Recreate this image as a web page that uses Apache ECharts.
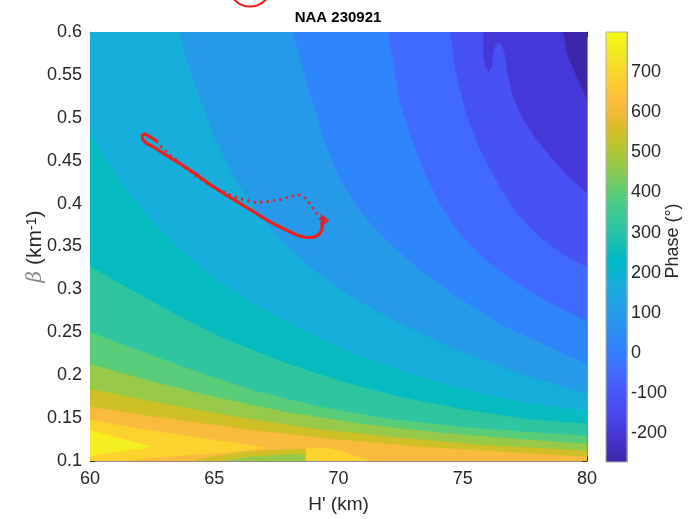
<!DOCTYPE html>
<html><head><meta charset="utf-8">
<script src="https://cdn.jsdelivr.net/npm/echarts@6/dist/echarts.min.js"></script>
<style>html,body{margin:0;padding:0;background:#fff}#c{width:690px;height:519px}</style>
</head><body><div id="c"></div>
<script>
// ---------- data ----------
const xTicks = [60, 65, 70, 75, 80];
const yTicks = [0.1, 0.15, 0.2, 0.25, 0.3, 0.35, 0.4, 0.45, 0.5, 0.55, 0.6];
const cbarMin = -272, cbarMax = 800;
const cbarTicks = [-200, -100, 0, 100, 200, 300, 400, 500, 600, 700];
const bandStep = 74;   // phase step between filled contour levels

// contour boundaries (H', beta); band k lies on the lower-left side of contour k
const contour01 = [[79.03,0.6],[79.19,0.5733],[79.60,0.5465],[80,0.521]];
const contour02 = [[75.81,0.6],[75.81,0.5733],[75.90,0.5593],[76.06,0.5535],[76.18,0.5593],[76.26,0.5791],[76.38,0.5872],[76.54,0.5860],[76.66,0.5767],[76.78,0.5535],[76.98,0.5267],[77.38,0.5000],[77.91,0.4767],[78.51,0.4547],[79.24,0.4314],[80,0.4116]];
const contour03 = [[74.49,0.6],[74.69,0.5558],[75.13,0.5035],[75.69,0.4628],[76.42,0.4221],[77.22,0.3872],[78.11,0.3605],[79.03,0.3407],[80,0.3256]];
const contour04 = [[71.99,0.6],[72.19,0.5674],[72.43,0.5209],[72.88,0.4802],[73.40,0.4395],[74.08,0.3988],[74.89,0.3640],[75.90,0.3349],[77.10,0.3081],[78.43,0.2849],[80,0.2628]];
const contour05 = [[68.17,0.6],[68.45,0.5674],[68.85,0.5267],[69.34,0.4802],[69.90,0.4372],[70.66,0.3988],[71.47,0.3698],[72.31,0.3465],[73.48,0.3174],[74.89,0.2884],[76.50,0.2593],[78.31,0.2349],[80,0.2128]];
const contour06 = [[63.58,0.6],[63.94,0.5616],[64.43,0.5209],[65.03,0.4744],[65.84,0.4279],[66.76,0.3872],[67.85,0.3523],[69.06,0.3209],[70.46,0.2919],[72.27,0.2628],[74.49,0.2326],[77.10,0.2035],[80,0.1779]];
const contour07 = [[60,0.4802],[60.80,0.4453],[61.61,0.4105],[62.62,0.3756],[63.82,0.3407],[65.23,0.3081],[66.84,0.2791],[68.65,0.2512],[70.66,0.2244],[72.88,0.2012],[75.29,0.1814],[77.71,0.1663],[80,0.1581]];
const contour08 = [[60,0.3267],[61.61,0.3000],[63.42,0.2709],[65.43,0.2419],[67.65,0.2163],[70.06,0.1930],[72.47,0.1744],[74.89,0.1605],[77.50,0.1488],[80,0.1430]];
const contour09 = [[60,0.2500],[62.01,0.2279],[64.23,0.2047],[66.64,0.1814],[69.26,0.1628],[72.07,0.1488],[74.89,0.1395],[77.50,0.1337],[80,0.1291]];
const contour10 = [[60,0.2128],[62.41,0.1930],[65.03,0.1744],[67.85,0.1570],[70.87,0.1430],[74.08,0.1326],[77.10,0.1256],[80,0.1198]];
const contour11 = [[60,0.1837],[62.82,0.1674],[65.84,0.1512],[69.06,0.1372],[72.47,0.1267],[75.69,0.1186],[80,0.1116]];
const contour12 = [[60,0.1628],[63.22,0.1488],[66.44,0.1360],[69.66,0.1256],[73.28,0.1163],[76.50,0.1105],[80,0.1047]];
const valley11 = [[64.23,0.1],[65.03,0.1058],[66.24,0.1105],[67.65,0.1128],[68.69,0.114],[68.69,0.1]];
const valley10 = [[65.43,0.1],[66.44,0.1047],[67.65,0.107],[68.69,0.1081],[68.69,0.1]];
const tongue13 = [[60,0.1477],[62.01,0.1372],[64.43,0.1267],[66.04,0.1198],[67.04,0.1151],[66.04,0.1116],[64.43,0.1081],[62.41,0.1035],[61.25,0.1],[60,0.1]];
const blob13 = [[68.69,0.1151],[69.46,0.1151],[70.10,0.1116],[70.66,0.1058],[71.27,0.1],[68.69,0.1]];
const tongue14 = [[60,0.136],[61.01,0.1279],[62.21,0.1186],[62.41,0.1174],[62.21,0.1151],[61.01,0.1105],[60,0.1058]];

// trajectory
const solidTrack = [[62.66,0.4733],[62.41,0.4779],[62.21,0.4814],[62.09,0.4791],[62.13,0.4744],[62.29,0.4698],[62.54,0.4663],[63.02,0.4570],[63.62,0.4465],[64.23,0.4349],[64.83,0.4221],[65.39,0.4116],[65.92,0.4023],[66.44,0.3930],[66.96,0.3837],[67.44,0.3756],[67.93,0.3686],[68.37,0.3628],[68.69,0.3605],[68.97,0.3605],[69.22,0.3640],[69.34,0.3698],[69.34,0.3767],[69.38,0.3826]];
const dottedTrack = [[62.66,0.4733],[62.94,0.4640],[63.30,0.4547],[63.82,0.4419],[64.31,0.4314],[64.79,0.4221],[65.23,0.4151],[65.71,0.4093],[66.20,0.4047],[66.68,0.4012],[67.16,0.4023],[67.65,0.4047],[68.05,0.4081],[68.37,0.4105],[68.61,0.4081],[68.81,0.4012],[69.01,0.3930],[69.18,0.3860],[69.34,0.3791]];
const arrowPoint = [[69.46,0.3802]];

// ---------- style ----------
const parula = [[0.2422,0.1504,0.6603],[0.2504,0.1650,0.7076],[0.2578,0.1818,0.7511],[0.2647,0.1978,0.7952],[0.2706,0.2147,0.8364],[0.2751,0.2342,0.8710],[0.2783,0.2559,0.8991],[0.2803,0.2782,0.9221],[0.2813,0.3006,0.9414],[0.2810,0.3228,0.9579],[0.2795,0.3447,0.9717],[0.2760,0.3667,0.9829],[0.2699,0.3892,0.9906],[0.2602,0.4123,0.9952],[0.2440,0.4358,0.9988],[0.2206,0.4603,0.9973],[0.1963,0.4847,0.9892],[0.1834,0.5074,0.9798],[0.1786,0.5289,0.9682],[0.1764,0.5499,0.9520],[0.1687,0.5703,0.9359],[0.1540,0.5902,0.9218],[0.1460,0.6091,0.9079],[0.1380,0.6276,0.8973],[0.1248,0.6459,0.8883],[0.1113,0.6635,0.8763],[0.0952,0.6798,0.8598],[0.0689,0.6948,0.8394],[0.0297,0.7082,0.8163],[0.0036,0.7203,0.7917],[0.0067,0.7312,0.7660],[0.0433,0.7411,0.7394],[0.0964,0.7500,0.7120],[0.1408,0.7584,0.6842],[0.1717,0.7670,0.6554],[0.1938,0.7758,0.6251],[0.2161,0.7843,0.5923],[0.2470,0.7918,0.5567],[0.2906,0.7973,0.5188],[0.3406,0.8008,0.4789],[0.3909,0.8029,0.4354],[0.4456,0.8024,0.3909],[0.5044,0.7993,0.3480],[0.5616,0.7942,0.3045],[0.6174,0.7876,0.2612],[0.6720,0.7793,0.2227],[0.7242,0.7698,0.1910],[0.7738,0.7598,0.1646],[0.8203,0.7498,0.1535],[0.8634,0.7406,0.1596],[0.9035,0.7330,0.1774],[0.9393,0.7288,0.2100],[0.9728,0.7298,0.2394],[0.9956,0.7434,0.2371],[0.9970,0.7659,0.2199],[0.9952,0.7893,0.2028],[0.9892,0.8136,0.1885],[0.9786,0.8386,0.1766],[0.9676,0.8639,0.1643],[0.9610,0.8890,0.1537],[0.9597,0.9135,0.1423],[0.9628,0.9373,0.1265],[0.9691,0.9606,0.1064],[0.9769,0.9839,0.0805]];
function parulaColor(t) {
  t = Math.max(0, Math.min(1, t));
  const f = t * (parula.length - 1), i = Math.floor(f), r = f - i;
  const a = parula[i], b = parula[Math.min(i + 1, parula.length - 1)];
  const c = a.map((v, k) => Math.round(255 * (v + (b[k] - v) * r)));
  return 'rgb(' + c.join(',') + ')';
}
function bandColor(k) { return parulaColor(k * bandStep / (cbarMax - cbarMin)); }
const FONT = '"Liberation Sans", Arial, Helvetica, sans-serif';
const TXT = '#262626';

// layers of the filled contour (drawn in order)
const frame = [[60,0.6],[80,0.6],[80,0.1],[60,0.1]];
const topClose = [[80,0.1],[60,0.1],[60,0.6]];
const leftClose = [[80,0.1],[60,0.1]];
const layers = [
  {band: 0, pts: frame},
  {band: 1, pts: contour01.concat(topClose)},
  {band: 2, pts: contour02.concat(topClose)},
  {band: 3, pts: contour03.concat(topClose)},
  {band: 4, pts: contour04.concat(topClose)},
  {band: 5, pts: contour05.concat(topClose)},
  {band: 6, pts: contour06.concat(topClose)},
  {band: 7, pts: contour07.concat(leftClose)},
  {band: 8, pts: contour08.concat(leftClose)},
  {band: 9, pts: contour09.concat(leftClose)},
  {band: 10, pts: contour10.concat(leftClose)},
  {band: 11, pts: contour11.concat(leftClose)},
  {band: 12, pts: contour12.concat(leftClose)},
  {band: 11, pts: valley11},
  {band: 10, pts: valley10},
  {band: 13, pts: tongue13},
  {band: 13, pts: blob13},
  {band: 14, pts: tongue14}
];

const chart = echarts.init(document.getElementById('c'), null, {renderer: 'canvas'});

const cbarStops = [];
for (let i = 0; i <= 32; i++) {
  cbarStops.push({offset: i / 32, color: parulaColor(1 - i / 32)});
}

const axisLineStyle = {color: '#8c8c8c', width: 1};
const tickStyle = {color: '#333', width: 1};

chart.setOption({
  animation: false,
  backgroundColor: '#fff',
  title: {
    text: 'NAA 230921', left: 333, top: 5, textAlign: 'center',
    textStyle: {fontFamily: FONT, fontSize: 15, fontWeight: 'bold', color: '#000'}
  },
  grid: [
    {left: 90, right: 103, top: 32, bottom: 57},
    {left: 606, right: 63, top: 32, bottom: 57}
  ],
  xAxis: [
    {gridIndex: 0, type: 'value', min: xTicks[0], max: xTicks[xTicks.length - 1], interval: 5, position: 'bottom',
     axisLine: {show: true, onZero: false, lineStyle: axisLineStyle},
     axisTick: {show: true, inside: true, length: 5, lineStyle: tickStyle},
     axisLabel: {margin: 9, fontFamily: FONT, fontSize: 18, color: TXT},
     splitLine: {show: false},
     name: "H' (km)", nameLocation: 'middle', nameGap: 34, nameMoveOverlap: false,
     nameTextStyle: {fontFamily: FONT, fontSize: 19, color: TXT}},
    {gridIndex: 0, type: 'value', min: xTicks[0], max: xTicks[xTicks.length - 1], interval: 5, position: 'top',
     axisLine: {show: true, onZero: false, lineStyle: axisLineStyle},
     axisTick: {show: true, inside: true, length: 5, lineStyle: tickStyle},
     axisLabel: {show: false}, splitLine: {show: false}},
    {gridIndex: 1, type: 'value', min: 0, max: 1, show: false}
  ],
  yAxis: [
    {gridIndex: 0, type: 'value', min: yTicks[0], max: yTicks[yTicks.length - 1], interval: 0.05, position: 'left',
     axisLine: {show: true, onZero: false, lineStyle: axisLineStyle},
     axisTick: {show: true, inside: true, length: 5, lineStyle: tickStyle},
     axisLabel: {margin: 8, fontFamily: FONT, fontSize: 18, color: TXT},
     splitLine: {show: false},
     name: '{b|β} {n|(km}{s|-1}{n|)}', nameLocation: 'middle', nameGap: 44, nameRotate: 90, nameMoveOverlap: false,
     nameTextStyle: {fontFamily: FONT, fontSize: 21, color: TXT,
       rich: {
         b: {fontFamily: '"DejaVu Serif", serif', fontStyle: 'italic', fontSize: 20, color: '#8a8a8a'},
         n: {fontFamily: FONT, fontSize: 21, color: TXT},
         s: {fontFamily: FONT, fontSize: 14, color: TXT, verticalAlign: 'top'}
       }}},
    {gridIndex: 0, type: 'value', min: yTicks[0], max: yTicks[yTicks.length - 1], interval: 0.05, position: 'right',
     axisLine: {show: true, onZero: false, lineStyle: axisLineStyle},
     axisTick: {show: true, inside: true, length: 5, lineStyle: tickStyle},
     axisLabel: {show: false}, splitLine: {show: false}},
    {gridIndex: 1, type: 'value', min: cbarMin, max: cbarMax, position: 'right',
     axisLine: {show: true, onZero: false, lineStyle: {color: '#a0a0a0'}},
     axisTick: {show: true, inside: true, length: 4, customValues: cbarTicks, lineStyle: tickStyle},
     axisLabel: {margin: 4, customValues: cbarTicks, fontFamily: FONT, fontSize: 18, color: TXT},
     splitLine: {show: false},
     name: 'Phase (°)', nameLocation: 'middle', nameGap: 37, nameRotate: 90, nameMoveOverlap: false,
     nameTextStyle: {fontFamily: FONT, fontSize: 18, color: TXT, padding: [0, 0, 0, 12]}}
  ],
  series: [
    {
      type: 'custom', xAxisIndex: 0, yAxisIndex: 0, z: 1, clip: true, silent: true,
      data: layers.map((l, i) => [60, 0.6, i]),
      encode: {x: 0, y: 1},
      renderItem: function (params, api) {
        const layer = layers[api.value(2)];
        const pts = layer.pts.map(p => api.coord(p));
        const col = bandColor(layer.band);
        return {type: 'polygon', shape: {points: pts},
                style: {fill: col, stroke: col, lineWidth: 0.6}};
      }
    },
    {
      type: 'custom', xAxisIndex: 2, yAxisIndex: 2, z: 1, silent: true,
      data: [[0, cbarMax]],
      renderItem: function (params, api) {
        const p0 = api.coord([0, cbarMax]);
        const p1 = api.coord([1, cbarMin]);
        return {type: 'rect',
          shape: {x: p0[0], y: p0[1], width: p1[0] - p0[0], height: p1[1] - p0[1]},
          style: {fill: new echarts.graphic.LinearGradient(0, 0, 0, 1, cbarStops), stroke: '#b0b0b0', lineWidth: 1}};
      }
    },
    {
      type: 'line', xAxisIndex: 0, yAxisIndex: 0, z: 4, data: dottedTrack,
      showSymbol: false, symbol: 'none',
      lineStyle: {color: '#d8283a', width: 2.8, type: [2.5, 4]}
    },
    {
      type: 'line', xAxisIndex: 0, yAxisIndex: 0, z: 5, data: solidTrack,
      showSymbol: false, symbol: 'none',
      lineStyle: {color: '#e8211c', width: 3.2, join: 'round', cap: 'round'}
    },
    {
      type: 'scatter', xAxisIndex: 0, yAxisIndex: 0, z: 6, data: arrowPoint,
      symbol: 'triangle', symbolSize: [14, 9], symbolRotate: -90,
      itemStyle: {color: '#e8211c'}
    }
  ],
  graphic: [
    {type: 'circle', shape: {cx: 250, cy: -15, r: 21.5}, silent: true,
     style: {fill: 'none', stroke: '#e8211c', lineWidth: 2}}
  ]
});
</script>
</body></html>
